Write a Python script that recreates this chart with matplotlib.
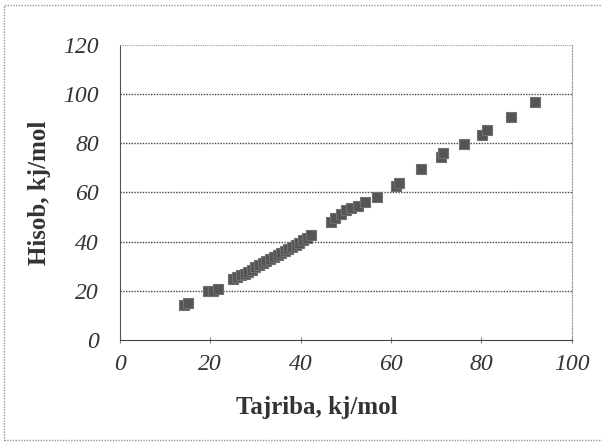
import matplotlib
matplotlib.use("Agg")
import matplotlib.pyplot as plt
from matplotlib.patches import Rectangle

plt.rcParams['font.family'] = ['Liberation Serif', 'DejaVu Serif']
plt.rcParams['font.style'] = 'italic'

# Tajriba (experiment) vs Hisob (calculated), kj/mol
tajriba = [14.3, 15.0, 19.5, 20.6, 21.8, 25.0, 25.9, 26.8, 27.6, 28.4, 29.2,
           30.0, 30.8, 31.6, 32.4, 33.2, 34.0, 34.9, 35.7, 36.5, 37.3, 38.1,
           38.9, 39.7, 40.5, 41.3, 42.3, 46.7, 47.6, 49.0, 50.0, 51.2, 52.6,
           54.3, 56.8, 61.0, 61.8, 66.6, 71.0, 71.5, 76.1, 80.2, 81.3, 86.5,
           91.8]
hisob = [14.0, 15.0, 20.0, 20.0, 20.5, 24.6, 25.4, 26.3, 26.8, 27.8, 28.6,
         29.5, 30.5, 31.4, 32.0, 32.8, 33.6, 34.6, 35.4, 36.2, 37.0, 37.8,
         38.8, 39.6, 40.6, 41.6, 42.6, 48.0, 49.6, 51.4, 52.8, 53.6, 54.6,
         56.2, 58.0, 62.6, 64.0, 69.5, 74.6, 76.0, 79.8, 83.6, 85.6, 90.8,
         96.8]

xticks = [0, 20, 40, 60, 80, 100]
yticks = [0, 20, 40, 60, 80, 100, 120]

fig = plt.figure(figsize=(6.02, 4.43), dpi=100)
ax = fig.add_axes([0.199, 0.233, 0.751, 0.665])

ax.plot(tajriba, hisob, linestyle='none', marker='s', markersize=7,
        color='#555555', markeredgecolor='#707070', markeredgewidth=0.8, zorder=3)

ax.set_xlim(0, 100)
ax.set_ylim(0, 120)
ax.set_xticks(xticks)
ax.set_yticks(yticks)
ax.tick_params(axis='both', labelsize=17, labelcolor='#333333')
ax.tick_params(axis='x', direction='inout', length=5, width=0.8, color='#888888', pad=8)
ax.tick_params(axis='y', length=0, pad=15)

for y in yticks[1:-1]:
    ax.axhline(y, color='#444444', linestyle=(0, (1, 1)), linewidth=1.0, zorder=1)
ax.axhline(120, color='#999999', linestyle=(0, (1, 1)), linewidth=0.8, zorder=1)

ax.spines['top'].set_visible(False)
ax.spines['right'].set_linestyle((0, (1, 1.5)))
ax.spines['right'].set_color('#999999')
ax.spines['right'].set_linewidth(0.8)
ax.spines['left'].set_linestyle((0, (1, 1)))
ax.spines['left'].set_color('#555555')
ax.spines['bottom'].set_linestyle((0, (1, 1)))
ax.spines['bottom'].set_color('#444444')

ax.set_xlabel('Tajriba, kj/mol', fontsize=18, fontweight='bold', fontstyle='normal',
              color='#333333')
ax.xaxis.set_label_coords(0.436, -0.19)
ax.set_ylabel('Hisob, kj/mol', fontsize=18, fontweight='bold', fontstyle='normal',
              color='#333333')
ax.yaxis.set_label_coords(-0.152, 0.5)

# dotted frame around the whole chart
fig.patches.append(Rectangle((0.007, 0.007), 1.2, 0.982, transform=fig.transFigure,
                             fill=False, linestyle=(0, (1, 1)), edgecolor='#999999',
                             linewidth=1.0))

fig.savefig("out.png", dpi=100)
